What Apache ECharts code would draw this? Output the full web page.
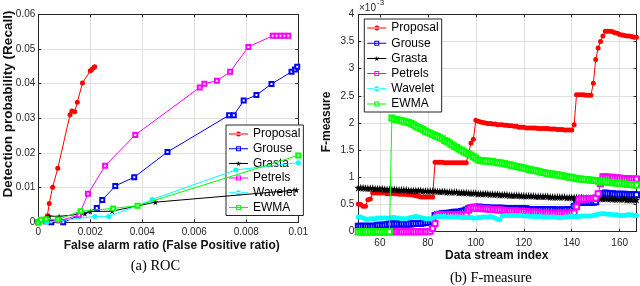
<!DOCTYPE html>
<html><head><meta charset="utf-8">
<script src="https://cdn.jsdelivr.net/npm/echarts@6/dist/echarts.min.js"></script>
<style>
html,body{margin:0;padding:0;background:#fff;width:640px;height:286px;overflow:hidden}
#a{position:absolute;left:0;top:0;width:311px;height:286px}
#b{position:absolute;left:311px;top:0;width:329px;height:286px}
</style></head><body>
<div id="a"></div><div id="b"></div>
<script>
// ---------- (a) ROC : [false alarm ratio, detection probability] ----------
const rocProposal = [[0,0],[0.00004,0.0005],[0.00035,0.0019],[0.00042,0.0054],[0.00055,0.0101],[0.00075,0.0156],[0.00122,0.031],[0.00129,0.0321],[0.0014,0.0319],[0.0015,0.0346],[0.0017,0.0402],[0.002,0.0437],[0.00206,0.0441],[0.00213,0.0446],[0.00217,0.0449]];
const rocGrouse = [[0,0],[0.0005,0],[0.00096,0],[0.00225,0.0041],[0.00246,0.0064],[0.00296,0.0105],[0.00369,0.013],[0.00497,0.0203],[0.00734,0.0309],[0.00752,0.0309],[0.0079,0.0351],[0.00839,0.0367],[0.00897,0.0399],[0.00974,0.0434],[0.00987,0.0441],[0.00996,0.0449]];
const rocGrasta = [[0,0],[0.00014,0.0007],[0.00042,0.0018],[0.0008,0.0017],[0.00179,0.0025],[0.002,0.0031],[0.00284,0.0032],[0.00385,0.0048],[0.0045,0.0058],[0.00993,0.0093]];
const rocPetrels = [[0,0],[0.0003,0.0002],[0.0008,0.0005],[0.00156,0.002],[0.00191,0.0082],[0.00257,0.0163],[0.00373,0.0252],[0.00621,0.0389],[0.00639,0.04],[0.00687,0.0408],[0.00738,0.0434],[0.00808,0.0506],[0.00902,0.0538],[0.00917,0.0538],[0.00932,0.0538],[0.00947,0.0538],[0.00962,0.0538]];
const rocWavelet = [[0,0],[0.00032,0],[0.00218,0.0017],[0.00271,0.0017],[0.00382,0.0048],[0.00438,0.0066],[0.0076,0.0151],[0.01,0.0172]];
const rocEWMA = [[0,0],[0.0001,0.0007],[0.0003,0.0009],[0.00075,0.0008],[0.00163,0.0032],[0.00288,0.004],[0.00382,0.0048],[0.01,0.0193]];
const rocXTicks = [0,0.002,0.004,0.006,0.008,0.01];
const rocYTicks = [0,0.01,0.02,0.03,0.04,0.05,0.06];

// ---------- (b) F-measure (x 10^-3) over data stream index 51..167 ----------
const streamIndex = Array.from({length:117},(_, i)=>51+i);
const fProposal = [
0.51,0.50,0.47,0.47,0.59,0.60,0.71,0.71,0.71,0.71,
0.71,0.71,0.70,0.70,0.70,0.70,0.70,0.69,0.69,0.69,
0.69,0.68,0.68,0.67,0.66,0.65,0.64,0.64,0.64,0.64,
0.64,0.64,1.28,1.28,1.28,1.28,1.27,1.27,1.27,1.27,
1.27,1.27,1.27,1.27,1.27,1.27,1.44,1.63,1.70,2.05,
2.03,2.02,2.01,2.00,1.99,1.99,1.98,1.98,1.97,1.97,
1.97,1.96,1.96,1.95,1.95,1.94,1.94,1.92,1.92,1.92,
1.91,1.91,1.91,1.91,1.91,1.90,1.90,1.90,1.90,1.90,
1.89,1.89,1.89,1.88,1.88,1.88,1.87,1.87,1.87,1.87,
1.97,2.52,2.52,2.52,2.52,2.51,2.51,2.51,2.73,3.17,
3.38,3.50,3.60,3.69,3.69,3.69,3.68,3.66,3.65,3.63,
3.62,3.61,3.60,3.60,3.59,3.58,3.58];
const fGrouse = [
0.10,0.10,0.10,0.10,0.10,0.10,0.10,0.10,0.12,0.12,
0.12,0.12,0.13,0.14,0.14,0.14,0.14,0.14,0.14,0.14,
0.14,0.14,0.14,0.15,0.15,0.15,0.15,0.16,0.17,0.17,
0.17,0.20,0.30,0.31,0.32,0.33,0.33,0.34,0.34,0.35,
0.36,0.36,0.36,0.37,0.38,0.40,0.42,0.44,0.45,0.45,
0.45,0.45,0.44,0.44,0.44,0.43,0.43,0.43,0.43,0.43,
0.43,0.42,0.42,0.42,0.42,0.42,0.42,0.42,0.42,0.42,
0.42,0.41,0.41,0.41,0.41,0.41,0.41,0.41,0.41,0.41,
0.41,0.41,0.40,0.40,0.40,0.40,0.40,0.41,0.41,0.41,
0.47,0.53,0.54,0.54,0.54,0.54,0.54,0.54,0.54,0.55,
0.63,0.69,0.70,0.71,0.70,0.70,0.70,0.69,0.69,0.69,
0.69,0.69,0.68,0.68,0.68,0.68,0.68];
const fGrasta = [
0.81,0.81,0.81,0.80,0.80,0.80,0.80,0.79,0.79,0.79,
0.79,0.78,0.78,0.78,0.78,0.78,0.77,0.77,0.77,0.77,
0.77,0.76,0.76,0.76,0.76,0.76,0.76,0.75,0.75,0.75,
0.75,0.75,0.75,0.74,0.74,0.74,0.74,0.73,0.73,0.73,
0.73,0.73,0.72,0.72,0.72,0.72,0.71,0.71,0.71,0.71,
0.70,0.70,0.70,0.70,0.70,0.69,0.69,0.69,0.69,0.68,
0.68,0.68,0.68,0.67,0.67,0.67,0.67,0.67,0.66,0.66,
0.66,0.66,0.66,0.66,0.65,0.65,0.65,0.65,0.65,0.65,
0.64,0.64,0.64,0.64,0.64,0.64,0.64,0.63,0.63,0.63,
0.63,0.63,0.63,0.63,0.62,0.62,0.62,0.62,0.62,0.62,
0.61,0.61,0.61,0.61,0.61,0.61,0.60,0.60,0.60,0.60,
0.60,0.60,0.59,0.59,0.59,0.59,0.59];
const fPetrels = [
0,0,0,0,0,0,0,0,0,0,
0,0,0,0,0,0,0,0,0,0,
0,0,0,0,0,0,0,0,0,0,
0.01,0.06,0.15,0.31,0.31,0.31,0.31,0.31,0.31,0.31,
0.31,0.31,0.31,0.31,0.31,0.31,0.40,0.44,0.44,0.43,
0.43,0.43,0.42,0.42,0.42,0.41,0.41,0.41,0.40,0.40,
0.40,0.39,0.39,0.39,0.38,0.38,0.38,0.37,0.37,0.37,
0.37,0.36,0.36,0.36,0.36,0.35,0.35,0.35,0.34,0.34,
0.34,0.34,0.34,0.34,0.34,0.34,0.34,0.34,0.34,0.35,
0.35,0.46,0.59,0.60,0.60,0.60,0.61,0.61,0.61,0.62,
0.70,0.88,1.01,1.01,1.00,1.00,1.00,0.99,0.99,0.99,
0.98,0.98,0.98,0.97,0.97,0.97,0.97];
const fWavelet = [
0.27,0.27,0.25,0.23,0.23,0.24,0.24,0.24,0.25,0.25,
0.25,0.25,0.25,0.25,0.26,0.26,0.25,0.25,0.24,0.24,
0.24,0.25,0.26,0.27,0.28,0.27,0.26,0.25,0.24,0.24,
0.24,0.25,0.27,0.28,0.28,0.28,0.28,0.27,0.27,0.27,
0.27,0.27,0.27,0.26,0.26,0.26,0.26,0.26,0.25,0.25,
0.26,0.26,0.27,0.27,0.27,0.28,0.27,0.25,0.23,0.22,
0.29,0.30,0.30,0.30,0.30,0.30,0.30,0.30,0.30,0.29,
0.29,0.29,0.28,0.28,0.28,0.28,0.28,0.27,0.27,0.27,
0.27,0.27,0.27,0.26,0.26,0.26,0.27,0.27,0.28,0.28,
0.28,0.28,0.28,0.29,0.29,0.29,0.29,0.29,0.30,0.31,
0.32,0.33,0.33,0.33,0.32,0.32,0.31,0.31,0.31,0.30,
0.30,0.30,0.31,0.31,0.31,0.30,0.30];
const fEWMA = [
0,0,0,0,0,0,0,0,0,0,
0,0,0,0,2.09,2.07,2.06,2.05,2.04,2.03,
2.02,2.01,1.99,1.97,1.94,1.92,1.90,1.88,1.85,1.83,
1.81,1.79,1.77,1.75,1.73,1.71,1.68,1.66,1.63,1.60,
1.57,1.55,1.52,1.50,1.47,1.45,1.43,1.41,1.38,1.35,
1.32,1.31,1.30,1.30,1.30,1.29,1.29,1.28,1.27,1.27,
1.26,1.25,1.24,1.23,1.22,1.21,1.20,1.19,1.18,1.17,
1.16,1.15,1.14,1.13,1.12,1.11,1.10,1.09,1.08,1.07,
1.06,1.06,1.05,1.05,1.04,1.03,1.02,1.01,1.00,1.00,
0.99,0.98,0.97,0.97,0.96,0.96,0.95,0.95,0.94,0.94,
0.93,0.93,0.92,0.92,0.91,0.91,0.90,0.90,0.89,0.89,
0.88,0.88,0.87,0.87,0.87,0.86,0.86];
const fXTicks = [60,80,100,120,140,160];
const fYTicks = [0,0.5,1,1.5,2,2.5,3,3.5,4];

const names = ['Proposal','Grouse','Grasta','Petrels','Wavelet','EWMA'];
const colors = ['#ff0000','#0000ff','#000000','#ff00ff','#00ffff','#00ff00'];
const STAR = 'path://M0,-1L0.22,-0.3L0.95,-0.31L0.36,0.12L0.59,0.81L0,0.38L-0.59,0.81L-0.36,0.12L-0.95,-0.31L-0.22,-0.3Z';
const symbols = ['circle','emptyRect',STAR,'emptyRect','circle','emptyRect'];
// legend icons: a 19x5 line sample with its marker in the middle
const IC_CIRCLE = 'path://M0,2H19V3H0Z M7,2.5A2.5,2.5 0 1 0 12,2.5A2.5,2.5 0 1 0 7,2.5Z';
const IC_SQUARE = 'path://M0,2H7V0H12V2H19V3H12V5H7V3H0Z M8,1V4H11V1Z M8,2H11V3H8Z';
const IC_STAR = 'path://M0,2H7.3L7.1,1.7L8.95,1.75L9.5,0L10.05,1.75L11.9,1.7L11.7,2H19V3H10.6L11,5L9.5,3.8L8,5L8.4,3H0Z';
const legendIcons = [IC_CIRCLE, IC_SQUARE, IC_STAR, IC_SQUARE, IC_CIRCLE, IC_SQUARE];
const FONT = '"Liberation Sans", Arial, Helvetica, sans-serif';
const AX = '#262626', GRID = '#e0e0e0';

function axisPair(kind, min, max, interval, opts) {
  const base = {
    type:'value', min:min, max:max, interval:interval,
    axisLine:{show:true, onZero:false, lineStyle:{color:AX, width:1}},
    axisTick:{show:true, inside:true, length:3, lineStyle:{color:AX}},
    splitLine:{show:false}, axisLabel:{show:false}
  };
  const main = Object.assign({}, base, {
    position: kind==='x' ? 'bottom' : 'left',
    splitLine:{show:true, lineStyle:{color:GRID, width:1}},
    axisLabel:{show:true, fontSize:10, color:AX, fontFamily:FONT, margin:opts.margin}
  });
  const other = Object.assign({}, base, {position: kind==='x' ? 'top' : 'right'});
  if (opts.custom) {
    main.axisLabel.customValues = opts.custom;
    main.axisTick = Object.assign({}, main.axisTick, {customValues: opts.custom});
    other.axisTick = Object.assign({}, other.axisTick, {customValues: opts.custom});
    delete main.interval; delete other.interval;
  }
  return [main, other];
}
function legendCfg(left, top, gap, w) {
  return {orient:'vertical', left:left, top:top, padding:[3,3,2,3], itemGap:gap, itemWidth:w, itemHeight:5,
    backgroundColor:'#fff', borderColor:AX, borderWidth:1, borderRadius:0, selectedMode:false,
    itemStyle:{borderWidth:0},
    textStyle:{fontSize:12, lineHeight:12, color:'#000', fontFamily:FONT},
    data:names.map((n,i)=>({name:n, icon:legendIcons[i]}))};
}
function lbl(x, y, text, style) {
  return {type:'text', x:x, y:y, style:Object.assign({text:text, fill:'#111', font:'bold 12px '+FONT, align:'center', verticalAlign:'middle'}, style||{})};
}

// ---- chart A ----
const rocData = [rocProposal, rocGrouse, rocGrasta, rocPetrels, rocWavelet, rocEWMA];
const chartA = echarts.init(document.getElementById('a'), null, {renderer:'canvas'});
chartA.setOption({
  animation:false, backgroundColor:'#fff',
  grid:{left:38.3, top:14.3, width:266.5, height:208},
  xAxis: axisPair('x', rocXTicks[0], rocXTicks[rocXTicks.length-1], rocXTicks[1]-rocXTicks[0], {margin:5}),
  yAxis: axisPair('y', rocYTicks[0], rocYTicks[rocYTicks.length-1], rocYTicks[1]-rocYTicks[0], {margin:3}),
  legend: legendCfg(226, 125, 2.7, 19),
  series: names.map((n,i)=>({
    name:n, type:'line', data:rocData[i], symbol:symbols[i], symbolSize: i===2?6:(i===0||i===4?5:4),
    showAllSymbol:true, color:colors[i], lineStyle:{width:1, color:colors[i]},
    itemStyle:{color:colors[i], borderWidth:1}, z:2+i
  })),
  graphic:[
    lbl(171.7, 245.7, 'False alarm ratio (False Positive ratio)'),
    Object.assign(lbl(8, 104, 'Detection probability (Recall)', {font:'bold 13.5px '+FONT}), {rotation:Math.PI/2}),
    lbl(155.5, 266.3, '(a) ROC', {font:'14.5px "Liberation Serif", "Times New Roman", serif', fill:'#000'})
  ]
});

// ---- chart B ----
const fData = [fProposal, fGrouse, fGrasta, fPetrels, fWavelet, fEWMA];
const OX = 311;
const chartB = echarts.init(document.getElementById('b'), null, {renderer:'canvas'});
chartB.setOption({
  animation:false, backgroundColor:'#fff',
  grid:{left:358.3-OX, top:14.3, width:278.2, height:217.4},
  xAxis: axisPair('x', 51, 167, null, {margin:7, custom:fXTicks}),
  yAxis: axisPair('y', fYTicks[0], fYTicks[fYTicks.length-1], fYTicks[1]-fYTicks[0], {margin:4}),
  legend: legendCfg(364.3-OX, 19, 3.2, 19),
  series: names.map((n,i)=>({
    name:n, type:'line', data:streamIndex.map((x,k)=>[x, fData[i][k]]), symbol:symbols[i],
    symbolSize: i===2?8:5, showAllSymbol:true, color:colors[i], lineStyle:{width:1, color:colors[i]},
    itemStyle:{color:colors[i], borderWidth:1}, z:2+i
  })),
  graphic:[
    lbl(496.7-OX, 255.7, 'Data stream index'),
    Object.assign(lbl(327-OX, 122, 'F-measure'), {rotation:Math.PI/2}),
    lbl(490.8-OX, 278, '(b) F-measure', {font:'14.5px "Liberation Serif", "Times New Roman", serif', fill:'#000'}),
    {type:'text', x:359-OX, y:8.5, style:{text:'×10', font:'10px '+FONT, fill:AX, align:'left', verticalAlign:'middle'}},
    {type:'text', x:377-OX, y:3, style:{text:'-3', font:'8px '+FONT, fill:AX, align:'left', verticalAlign:'middle'}}
  ]
});
</script>
</body></html>
